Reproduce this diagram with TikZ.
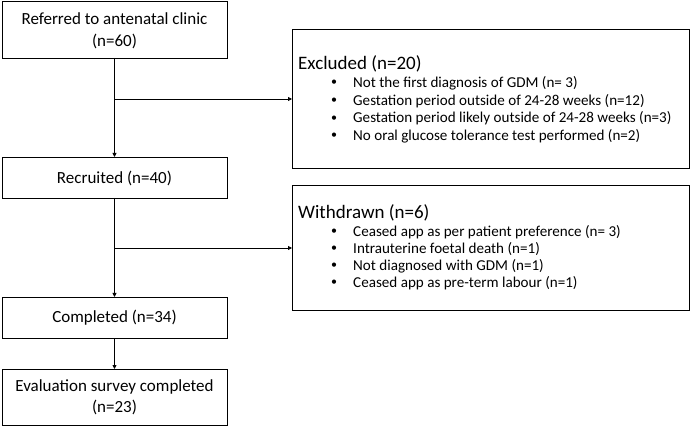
\documentclass[tikz,border=0pt]{standalone}
\usepackage{fontspec}
\setmainfont{Carlito}
\usetikzlibrary{arrows.meta}
\begin{document}
\begin{tikzpicture}[x=1pt,y=-1pt,
  box/.style={draw,line width=0.9pt,inner sep=0pt},
  main/.style={font=\fontsize{17}{21.5}\selectfont,align=center},
  head/.style={anchor=west,inner sep=0pt,font=\fontsize{19}{22}\selectfont},
  item/.style={anchor=west,inner sep=0pt,font=\fontsize{15.1}{18}\selectfont},
  bul/.style={inner sep=0pt,font=\fontsize{12}{14}\selectfont},
  arr/.style={line width=0.8pt,-{Triangle[length=4pt,width=4pt]}}]
\useasboundingbox (0,0) rectangle (690,427);
% main boxes
\draw[box] (2,1) rectangle (227,58);
\node[main] (ref) at (114.5,31) {Referred to antenatal clinic\\(n=60)};
\draw[box] (2,157) rectangle (227,198);
\node[main] (rec) at (114.5,178) {Recruited (n=40)};
\draw[box] (2,297) rectangle (227,338);
\node[main] (comp) at (114.5,318) {Completed (n=34)};
\draw[box] (2,369) rectangle (227,425);
\node[main] (eval) at (114.5,397.5) {Evaluation survey completed\\(n=23)};
\coordinate (refb) at (114.5,58);
\coordinate (recT) at (114.5,157);
\coordinate (recb) at (114.5,198);
\coordinate (compT) at (114.5,297);
\coordinate (compb) at (114.5,338);
\coordinate (evalT) at (114.5,369);
\coordinate (j1) at (114.5,99);
\coordinate (j2) at (114.5,248);
% side boxes
\draw[box] (292,29) rectangle (689,168);
\coordinate (exL) at (292,99);
\node[head] (ex0) at (298,64) {Excluded (n=20)};
\node[bul] at (334,83) {•};
\node[item] (ex1) at (353,83) {Not the first diagnosis of GDM (n= 3)};
\node[bul] at (334,101) {•};
\node[item] (ex2) at (353,101) {Gestation period outside of 24-28 weeks (n=12)};
\node[bul] at (334,118.5) {•};
\node[item] (ex3) at (353,118.5) {Gestation period likely outside of 24-28 weeks (n=3)};
\node[bul] at (334,136) {•};
\node[item] (ex4) at (353,136) {No oral glucose tolerance test performed (n=2)};
\draw[box] (292,185) rectangle (689,310);
\coordinate (wdL) at (292,248);
\node[head] (wd0) at (298,213) {Withdrawn (n=6)};
\node[bul] at (334,232) {•};
\node[item] (wd1) at (353,232) {Ceased app as per patient preference (n= 3)};
\node[bul] at (334,249) {•};
\node[item] (wd2) at (353,249) {Intrauterine foetal death (n=1)};
\node[bul] at (334,266) {•};
\node[item] (wd3) at (353,266) {Not diagnosed with GDM (n=1)};
\node[bul] at (334,283) {•};
\node[item] (wd4) at (353,283) {Ceased app as pre-term labour (n=1)};
% connectors
\draw[arr] (refb) -- (recT);
\draw[arr] (j1) -- (exL);
\draw[arr] (recb) -- (compT);
\draw[arr] (j2) -- (wdL);
\draw[arr] (compb) -- (evalT);
\end{tikzpicture}
\end{document}
